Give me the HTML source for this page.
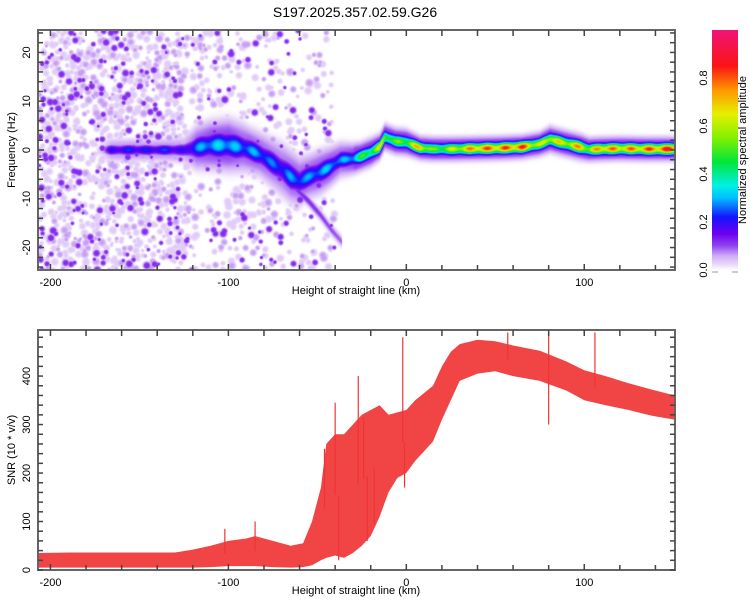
<!DOCTYPE html>
<html><head><meta charset="utf-8">
<style>
body{margin:0;background:#fff;width:750px;height:600px;overflow:hidden;position:relative;font-family:"Liberation Sans",sans-serif;}
#heat{position:absolute;left:38px;top:30px;}
#svg{position:absolute;left:0;top:0;}
text{font-family:"Liberation Sans",sans-serif;fill:#000;}
</style></head>
<body>
<canvas id="heat" width="637" height="240"></canvas>
<svg id="svg" width="750" height="600"></svg>
<script>
// ---- Data: spectrogram ridge ----
const ridgeKm = [-207,-175,-170,-166,-155,-145,-135,-125,-118,-110,-100,-92,-88,-82,-76,-70,-65,-60,-55,-48,-43,-37,-30,-26,-20,-15,-12,-6,0,8,15,25,40,53,65,75,81,88,98,103,109,120,135,151];
const ridgeHz = [0,0,0,0,0,0,0,0,0.5,1,1,0.5,0,-1,-2.5,-4,-5.5,-6.5,-5.5,-4.5,-3.5,-2,-1.8,-1.4,-0.5,0.6,2.7,1.8,1.6,0.4,0.2,0.2,0.3,0.4,0.6,1.2,2.2,1.5,0.6,0.1,0.2,0.3,0.2,0.2];
const ridgeAmp = [0,0,0.1,0.22,0.24,0.23,0.25,0.2,0.3,0.34,0.35,0.3,0.32,0.3,0.28,0.27,0.3,0.3,0.3,0.32,0.33,0.3,0.35,0.5,0.55,0.7,0.6,0.55,0.6,0.8,0.55,0.65,0.85,0.85,0.9,0.65,0.75,0.7,0.8,0.65,0.85,0.8,0.85,0.95];
const ridgeWidth = [1,1,1,1,1,1,1,1.2,2,2.2,2.4,2.2,2,2,2.2,2.4,2.4,2.2,2,2,1.8,1.6,1.4,1.3,1.3,1.2,1.2,1.2,1.2,1.1,1.1,1.1,1.1,1.1,1.1,1.1,1.2,1.2,1.2,1.1,1.1,1.1,1.1,1.1];
// secondary streaks
const streakKm = [-62,-55,-48,-42,-36];
const streakHz = [-8,-10.5,-13.5,-16.5,-19];
const streakAmp = [0.12,0.12,0.11,0.1,0.09];
// background speckle density by region
const speckleKmStart = [-207,-125,-70];
const speckleKmEnd = [-125,-70,-40];
const speckleCount = [1300,380,160];
// ---- Data: SNR envelope ----
const snrKm = [-207,-190,-170,-150,-130,-120,-110,-100,-90,-85,-75,-65,-58,-53,-48,-45,-40,-35,-30,-25,-20,-15,-10,-5,0,5,10,15,20,25,30,40,50,60,75,90,100,112,125,138,151];
const snrLo = [5,5,5,5,5,5,6,8,8,8,6,5,6,10,20,25,30,25,35,50,70,110,160,190,200,225,245,265,310,350,390,405,410,400,390,370,350,340,330,318,310];
const snrHi = [35,36,36,36,36,42,50,60,65,70,60,50,55,100,170,260,280,280,300,320,330,340,320,325,330,350,365,380,420,450,466,475,472,463,452,430,412,400,385,372,360];
const spikeKm = [-46,-40,-27,-24,-2,-1,-38,-22,-18,57,80,80,106,-85,-102];
const spikeVal = [250,345,400,315,480,170,20,60,95,490,495,300,490,100,85];

// ---- Axes ----
const L=38,R=675,T1=30,B1=270,T2=330,B2=570;
const kmMin=-207,kmMax=151;
const xs=km=>L+(km-kmMin)/(kmMax-kmMin)*(R-L);
const hzMin=-24.6,hzMax=24.6;
const ys1=hz=>B1-(hz-hzMin)/(hzMax-hzMin)*(B1-T1);
const snrMax=495;
const ys2=v=>B2-v/snrMax*(B2-T2);
function interp(xa,ya,x){ if(x<=xa[0])return ya[0]; for(let i=1;i<xa.length;i++){ if(x<=xa[i]){const u=(x-xa[i-1])/(xa[i]-xa[i-1]);return ya[i-1]+u*(ya[i]-ya[i-1]);}} return ya[ya.length-1]; }

const stops=[[0,[255,255,255]],[0.02,[236,222,250]],[0.06,[205,170,246]],[0.1,[145,70,240]],[0.15,[110,0,240]],[0.22,[20,20,255]],[0.3,[0,190,255]],[0.35,[0,240,230]],[0.45,[0,230,60]],[0.55,[130,240,0]],[0.65,[230,240,0]],[0.75,[255,150,0]],[0.85,[250,20,20]],[1,[240,20,120]]];
function cmap(v){ v=Math.max(0,Math.min(1,v)); for(let i=1;i<stops.length;i++){ if(v<=stops[i][0]){const a=stops[i-1],b=stops[i];const u=(v-a[0])/(b[0]-a[0]);return [0,1,2].map(k=>Math.round(a[1][k]+u*(b[1][k]-a[1][k])));}} return stops[stops.length-1][1]; }

// ---- Heatmap ----
(function(){
 const W=637,H=240; const field=new Float32Array(W*H);
 let seed=12345; const rnd=()=>{seed=(seed*1103515245+12345)%2147483648;return seed/2147483648;};
 function blob(cx,cy,r,v){ for(let y=Math.max(0,Math.floor(cy-2*r));y<Math.min(H,cy+2*r);y++)for(let x=Math.max(0,Math.floor(cx-2*r));x<Math.min(W,cx+2*r);x++){const d=((x-cx)*(x-cx)+(y-cy)*(y-cy))/(r*r);const val=v*Math.exp(-d*d);const i=y*W+x;if(val>field[i])field[i]=val;}}
 for(let g=0;g<speckleKmStart.length;g++){ for(let n=0;n<speckleCount[g];n++){ const km=speckleKmStart[g]+rnd()*(speckleKmEnd[g]-speckleKmStart[g]); const hz=hzMin+rnd()*(hzMax-hzMin); const q=rnd(); const v=q<0.6?0.035:(q<0.85?0.065:0.12); blob(xs(km)-L,ys1(hz)-T1,1.8+rnd()*2.2,v);} }
 for(let px=0;px<W;px++){ const km=kmMin+px/(W-1)*(kmMax-kmMin); const f=interp(ridgeKm,ridgeHz,km); const a=interp(ridgeKm,ridgeAmp,km); const w=interp(ridgeKm,ridgeWidth,km); const mod=0.88+0.12*Math.cos(px*0.35);
  const sOn=km>=streakKm[0]&&km<=streakKm[streakKm.length-1]; const sf=interp(streakKm,streakHz,km), sa=interp(streakKm,streakAmp,km);
  for(let py=0;py<H;py++){ const hz=hzMax-py/(H-1)*(hzMax-hzMin); const d=(hz-f)/w; let v=a*mod*Math.exp(-d*d); const e=(hz-f)/(2.2*w); const halo=Math.min(0.12,a*0.3)*Math.exp(-e*e*e*e); v=Math.max(v,halo);
   if(sOn){const ds=(hz-sf)/1.0; v=Math.max(v,sa*Math.exp(-ds*ds));}
   const i=py*W+px; if(v>field[i])field[i]=v; } }
 const ctx=document.getElementById('heat').getContext('2d'); const img=ctx.createImageData(W,H);
 for(let i=0;i<W*H;i++){const c=cmap(field[i]);img.data[4*i]=c[0];img.data[4*i+1]=c[1];img.data[4*i+2]=c[2];img.data[4*i+3]=255;}
 ctx.putImageData(img,0,0);
})();

// ---- SVG ----
const NS='http://www.w3.org/2000/svg'; const svgEl=document.getElementById('svg');
function el(tag,attrs,txt){const e=document.createElementNS(NS,tag);for(const k in attrs)e.setAttribute(k,attrs[k]);if(txt!==undefined)e.textContent=txt;svgEl.appendChild(e);return e;}
const titleEl=el('text',{x:355,y:17,'text-anchor':'middle','font-size':14},'S197.2025.357.02.59.G26');



// SNR band
const pts=[]; for(let i=0;i<snrKm.length;i++)pts.push(xs(snrKm[i]).toFixed(1)+','+ys2(snrHi[i]).toFixed(1));
for(let i=snrKm.length-1;i>=0;i--)pts.push(xs(snrKm[i]).toFixed(1)+','+ys2(snrLo[i]).toFixed(1));
const band=el('polygon',{points:pts.join(' '),fill:'#f03434','fill-opacity':0.92});


for(let i=0;i<spikeKm.length;i++){ const base=interp(snrKm,snrLo,spikeKm[i])*0.5+interp(snrKm,snrHi,spikeKm[i])*0.5;
 const s=el('line',{x1:xs(spikeKm[i]),x2:xs(spikeKm[i]),y1:ys2(base),y2:ys2(spikeVal[i]),stroke:'#f03434','stroke-width':1.2});
 
 
}

function drawFrame(y0,y1,nm){ const r=el('rect',{x:L,y:y0,width:R-L,height:y1-y0,fill:'none',stroke:'#666','stroke-width':2});
 
  }
drawFrame(T1,B1,'spectrogram-frame'); drawFrame(T2,B2,'snr-frame');

function xaxis(y0,y1){ for(let km=-200;km<=140;km+=20){ const x=xs(km); const maj=km%100===0; el('line',{x1:x,x2:x,y1:y0,y2:y0+6,stroke:'#444','stroke-width':1.5}); el('line',{x1:x,x2:x,y1:y1,y2:y1-(maj?6:5),stroke:'#444','stroke-width':1.5});
  if(maj){const tl=el('text',{x:x,y:y1+16,'text-anchor':'middle','font-size':11},String(km));
   
   } }
 const xl=el('text',{x:356,y:y1+24,'text-anchor':'middle','font-size':11},'Height of straight line (km)');
 
  }
xaxis(T1,B1); xaxis(T2,B2);

for(let hz=-24;hz<=24;hz+=2){ const y=ys1(hz); const maj=hz%10===0; el('line',{x1:L,x2:L+(maj?6:5),y1:y,y2:y,stroke:'#444','stroke-width':1.5}); el('line',{x1:R,x2:R-5,y1:y,y2:y,stroke:'#444','stroke-width':1.5});
 if(maj){const tl=el('text',{x:30,y:y,'text-anchor':'middle','font-size':11,transform:'rotate(-90 30 '+y+')'},String(hz));
  
  } }
const yl=el('text',{x:15,y:150,'text-anchor':'middle','font-size':11,transform:'rotate(-90 15 150)'},'Frequency (Hz)');



for(let v=0;v<=480;v+=20){ const y=ys2(v); const maj=v%100===0; el('line',{x1:L,x2:L+5,y1:y,y2:y,stroke:'#444','stroke-width':1.5}); el('line',{x1:R,x2:R-5,y1:y,y2:y,stroke:'#444','stroke-width':1.5});
 if(maj){const tl=el('text',{x:30,y:y,'text-anchor':'middle','font-size':11,transform:'rotate(-90 30 '+y+')'},String(v));
  
  } }
const yl2=el('text',{x:15,y:450,'text-anchor':'middle','font-size':11,transform:'rotate(-90 15 450)'},'SNR (10 * v/v)');



// Colorbar
const defs=el('defs',{}); const lg=document.createElementNS(NS,'linearGradient'); lg.setAttribute('id','cb'); lg.setAttribute('x1','0');lg.setAttribute('y1','1');lg.setAttribute('x2','0');lg.setAttribute('y2','0'); defs.appendChild(lg);
for(const s of stops){const st=document.createElementNS(NS,'stop');st.setAttribute('offset',s[0]);st.setAttribute('stop-color','rgb('+s[1].join(',')+')');lg.appendChild(st);}
const cb=el('rect',{x:712,y:30,width:26,height:240,fill:'url(#cb)'});


const cbY=v=>270-v*240;
for(const v of [0,0.2,0.4,0.6,0.8]){ const y=cbY(v); const tl=el('text',{x:707,y:y,'text-anchor':'middle','font-size':11,transform:'rotate(-90 707 '+y+')'},v.toFixed(1));
 
  }
el('line',{x1:712,x2:718,y1:272,y2:272,stroke:'#999'}); el('line',{x1:732,x2:738,y1:272,y2:272,stroke:'#999'});
const ct=el('text',{x:746,y:150,'text-anchor':'middle','font-size':11,transform:'rotate(-90 746 150)'},'Normalized spectral amplitude');


</script>
</body></html>
